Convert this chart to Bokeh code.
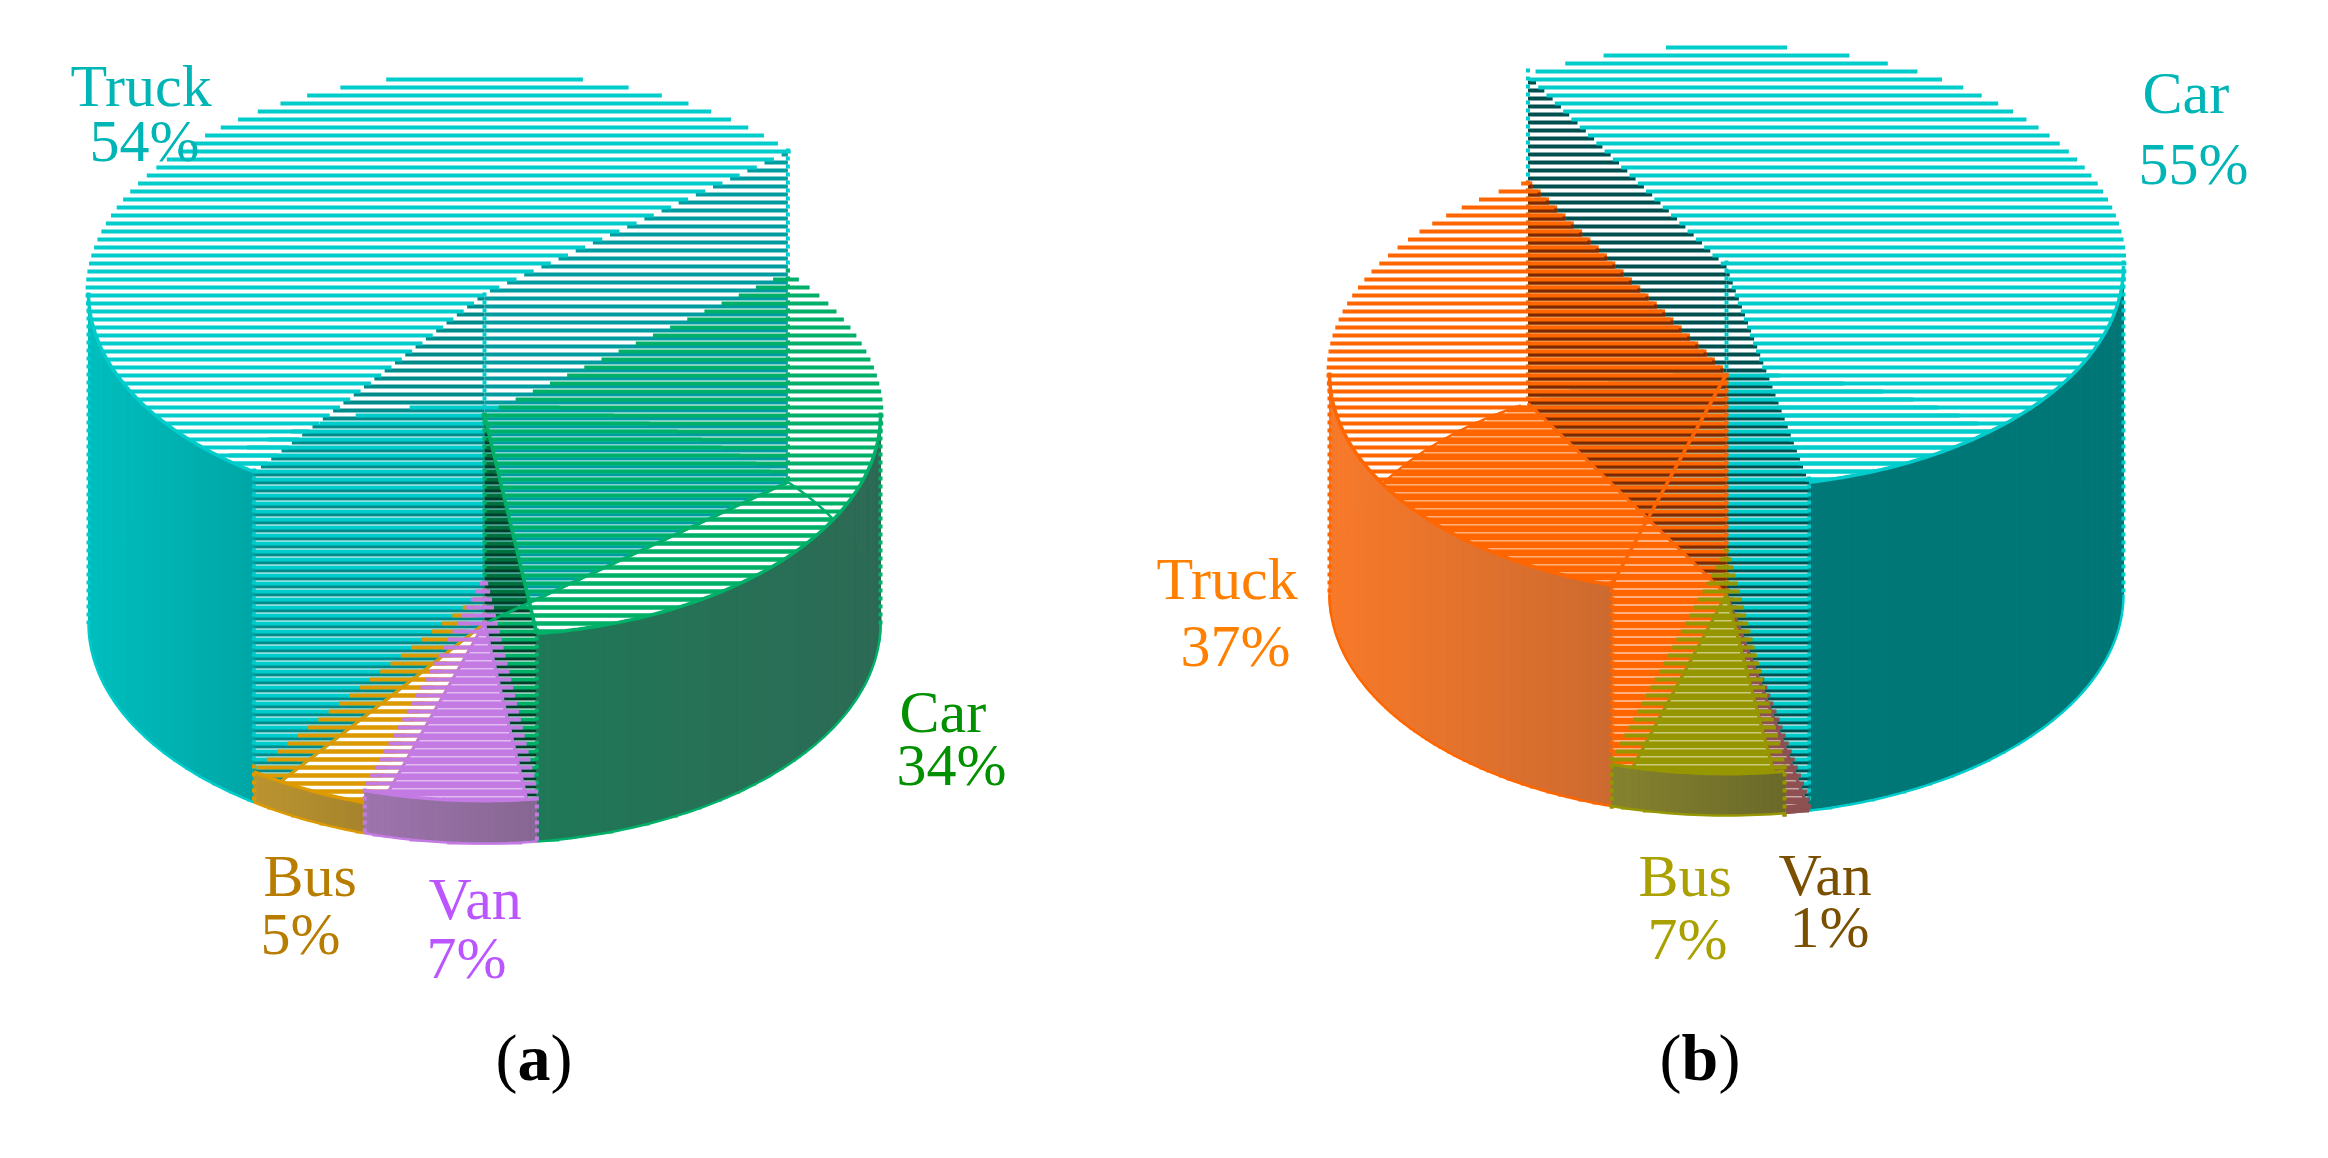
import math

from bokeh.core.properties import value
from bokeh.embed import file_html
from bokeh.plotting import figure
from bokeh.resources import INLINE

# chart values, clockwise from the first rim angle
left_names = ["Car", "Van", "Bus", "Truck"]
left_shares = [34, 7, 5, 54]
left_start = 40
right_names = ["Car", "Van", "Bus", "Truck"]
right_shares = [55, 1, 7, 37]
right_start = 120

PERIOD = 8
ROW = 4


def hex2rgb(c):
    return [int(c[i:i + 2], 16) for i in (1, 3, 5)]


def mix(c0, c1, t):
    a, b = hex2rgb(c0), hex2rgb(c1)
    return "#%02x%02x%02x" % tuple(round(a[i] + (b[i] - a[i]) * t) for i in range(3))


def spans(poly, y):
    xs = []
    for (x0, y0), (x1, y1) in zip(poly, poly[1:] + poly[:1]):
        if (y0 <= y < y1) or (y1 <= y < y0):
            xs.append(x0 + (y - y0) * (x1 - x0) / (y1 - y0))
    xs.sort()
    return list(zip(xs[0::2], xs[1::2]))


def rows(poly, phase, pad=0, clip=None):
    ys = [pt[1] for pt in poly]
    y = int(min(ys)) - PERIOD
    y -= (y - phase) % PERIOD
    out = []
    while y < max(ys) + PERIOD:
        for x0, x1 in spans(poly, y + ROW / 2):
            if clip is None:
                out.append((x0 - pad, x1 + pad, y))
            else:
                for c0, c1 in spans(clip, y + ROW / 2):
                    if min(x1, c1) > max(x0, c0):
                        out.append((max(x0, c0), min(x1, c1), y))
        y += PERIOD
    return out


def draw_rows(p, r, color):
    if r:
        p.quad(left=[q[0] for q in r], right=[q[1] for q in r],
               top=[q[2] for q in r], bottom=[q[2] + ROW for q in r],
               fill_color=color, line_color=None)


class Pie:
    def __init__(self, cx, base, rx, ry, unit, start, shares):
        self.cx, self.base, self.rx, self.ry, self.unit = cx, base, rx, ry, unit
        self.cuts = []
        hi = start
        for s in shares:
            self.cuts.append((hi, hi - s * 3.6, s))
            hi -= s * 3.6

    def rim(self, a, cy):
        t = math.radians(a)
        return (self.cx + self.rx * math.cos(t), cy - self.ry * math.sin(t))

    def wedge(self, i, cy):
        hi, lo, _ = self.cuts[i]
        n = max(2, int((hi - lo) / 2))
        return [(self.cx, cy)] + [self.rim(lo + (hi - lo) * k / n, cy) for k in range(n + 1)]

    def top(self, i):
        return self.base - self.cuts[i][2] * self.unit

    def wall(self, i, which):
        a = self.cuts[i][which]
        return [(self.cx, self.top(i)), self.rim(a, self.top(i)),
                self.rim(a, self.base), (self.cx, self.base)]


def draw_piece(p, pie, i, col, wall_hi=None, wall_lo=None, solid=("#000000", "#000000"),
               bottom_phases=(5,), back_rim=False, solid_edges=(), extras=()):
    hi, lo, _ = pie.cuts[i]
    top, base = pie.top(i), pie.base
    if wall_hi:
        draw_rows(p, rows(pie.wall(i, 0), 0), wall_hi)
    if wall_lo:
        draw_rows(p, rows(pie.wall(i, 1), 0), wall_lo)
    for phase in bottom_phases:
        draw_rows(p, rows(pie.wedge(i, base), phase), col)
    draw_rows(p, rows(pie.wedge(i, top), 5, pad=3), col)
    for poly, phase, clip, c in extras:
        draw_rows(p, rows(poly, phase, clip=clip), c)

    # radial edges on the floor, then the rim seen through the hatching
    for a in (hi, lo):
        x1, y1 = pie.rim(a, base)
        p.line([pie.cx, x1], [base, y1], line_color=col, line_width=3)
    for a in solid_edges:
        x1, y1 = pie.rim(a, top)
        p.line([pie.cx, x1], [top, y1], line_color=col, line_width=3.5)
    if back_rim:
        back = [hi - k for k in range(int(hi - lo)) if math.sin(math.radians(hi - k)) > -0.1]
        pts = [pie.rim(a, base) for a in back]
        p.line([q[0] for q in pts], [q[1] for q in pts], line_color=col, line_width=2.5)

    # outer wall, front half only, shaded across its width
    front = [lo + k * (hi - lo) / max(1, int(hi - lo)) for k in range(int(hi - lo) + 1)]
    front = [a for a in front if math.sin(math.radians(a)) <= 0.001]
    if len(front) > 1:
        xmin = min(pie.rim(a, top)[0] for a in front)
        xmax = max(pie.rim(a, top)[0] for a in front)
        xs, ys, cs = [], [], []
        for a0, a1 in zip(front, front[1:]):
            q = [pie.rim(a0, top), pie.rim(a1, top), pie.rim(a1, base), pie.rim(a0, base)]
            xs.append([pt[0] for pt in q])
            ys.append([pt[1] for pt in q])
            cs.append(mix(solid[0], solid[1], ((q[0][0] + q[1][0]) / 2 - xmin) / max(1, xmax - xmin)))
        p.patches(xs, ys, fill_color=cs, line_color=cs, line_width=1)
        for cy, w in ((top, 3.5), (base, 2.5)):
            pts = [pie.rim(a, cy) for a in front]
            p.line([q[0] for q in pts], [q[1] for q in pts], line_color=col, line_width=w)

    # dotted verticals: centre post, both cut faces and the silhouette
    posts = [(pie.cx, top, base)]
    for a in (hi, lo):
        posts.append((pie.rim(a, 0)[0], pie.rim(a, top)[1], pie.rim(a, base)[1]))
    for a in (0, 180, -180):
        if lo <= a <= hi:
            posts.append((pie.rim(a, 0)[0], top, base))
    for x, y0, y1 in posts:
        y = int(y0) - (int(y0) - 4) % PERIOD
        ticks = []
        while y < y1:
            ticks.append((x - 2, x + 2, y))
            y += PERIOD
        draw_rows(p, ticks, col)


p = figure(width=2312, height=1142, x_range=(8, 2320), y_range=(1150, 8),
           x_axis_location=None, y_axis_location=None, toolbar_location=None,
           output_backend="svg", min_border=0)
p.grid.grid_line_color = None
p.outline_line_color = None

# left pie: Car, Van, Bus, Truck
a = Pie(492, 631, 396, 220, 6.12, left_start, left_shares)
draw_piece(p, a, 3, "#00cccc", wall_hi="#008b8b", wall_lo="#009ca0", solid=("#00bebe", "#00a6a6"))
draw_piece(p, a, 0, "#00b068", wall_lo="#00402b", solid=("#1f7858", "#2d6a55"), back_rim=True,
           solid_edges=(a.cuts[0][1],),
           extras=[(a.wall(0, 1), 5, a.wedge(3, a.base), "#00703f")])
draw_piece(p, a, 2, "#dc9a00", solid=("#bc9430", "#a6842c"))
draw_piece(p, a, 1, "#c37be3", solid=("#9e74ae", "#876792"), bottom_phases=(0, 5))

# right pie: Car, Van, Bus, Truck
b = Pie(1734, 602, 397, 221, 5.97, right_start, right_shares)
draw_piece(p, b, 0, "#00cccc", wall_hi="#004f4f", wall_lo="#004f4f", solid=("#007878", "#007676"))
draw_piece(p, b, 3, "#ff6600", wall_lo="#ff5a00", solid=("#f87a2a", "#cc6a30"), bottom_phases=(0, 5),
           back_rim=True, solid_edges=(b.cuts[3][0] - 360 + 360,),
           extras=[(b.wall(3, 1), 0, b.wall(0, 0), "#7a2a00"), (b.wall(3, 1), 5, None, "#ff6600")])
draw_piece(p, b, 1, "#8e5050", solid=("#8c5050", "#8c5050"), bottom_phases=(0, 5))
draw_piece(p, b, 2, "#969600", solid=("#86822e", "#6a6a2a"), bottom_phases=(0, 5),
           solid_edges=())

# labels
label_text = [left_names[3], "54%", left_names[0], "34%", left_names[2], "5%", left_names[1], "7%",
              right_names[0], "55%", right_names[3], "37%", right_names[2], "7%", right_names[1], "1%"]
label_x = [78, 97, 907, 904, 271, 268, 436, 434, 2150, 2146, 1164, 1188, 1646, 1655, 1786, 1797]
label_y = [93, 148, 719, 772, 883, 941, 906, 965, 100, 171, 586, 653, 883, 946, 882, 934]
label_color = ["#00b5b5", "#00b5b5", "#009000", "#009000", "#b87d00", "#b87d00", "#bb55ff", "#bb55ff",
               "#00b5b5", "#00b5b5", "#ff8000", "#ff8000", "#aaa000", "#aaa000", "#7a5000", "#7a5000"]
p.text(label_x, label_y, text=label_text, text_color=label_color, text_font=value("Liberation Serif"),
       text_font_size=value("60px"), text_baseline="alphabetic", text_align="left")

p.text([503, 558, 1667, 1726], [1065] * 4, text=["(", ")", "(", ")"], text_color="#000000",
       text_font=value("Liberation Serif"), text_font_size=value("66px"),
       text_baseline="alphabetic", text_align="left")
p.text([525, 1689], [1065] * 2, text=["a", "b"], text_color="#000000",
       text_font=value("Liberation Serif"), text_font_size=value("66px"), text_font_style="bold",
       text_baseline="alphabetic", text_align="left")

open("out.html", "w").write(file_html(p, INLINE))
